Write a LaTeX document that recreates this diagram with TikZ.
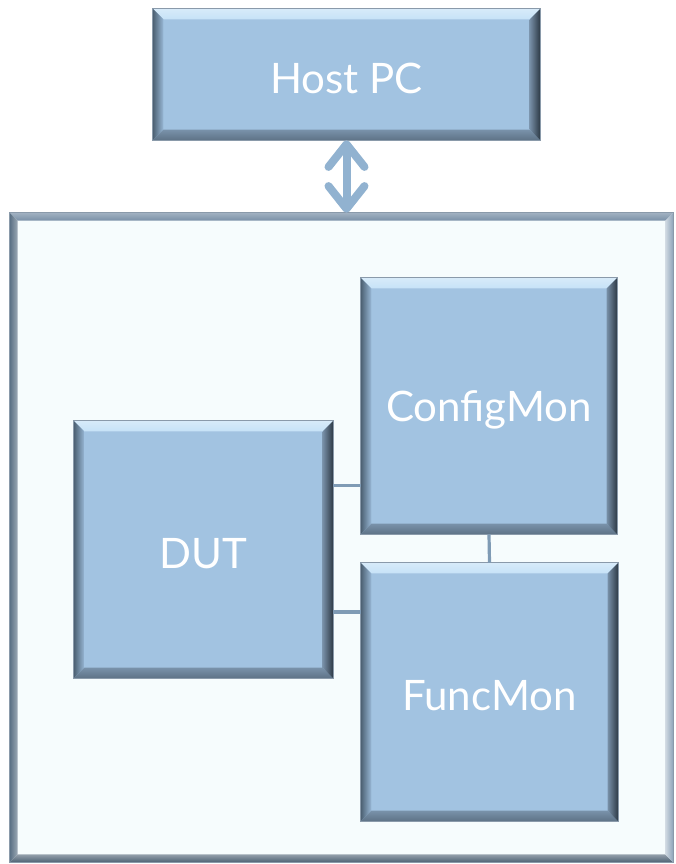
\documentclass[tikz,border=0pt]{standalone}
\usepackage{fontspec}
\setmainfont{Lato}
\usetikzlibrary{arrows.meta,calc}
\definecolor{boxfill}{HTML}{A2C3E1}
\definecolor{boxtop}{HTML}{C6E2F7}
\definecolor{boxleftout}{HTML}{4C6072}
\definecolor{boxleftin}{HTML}{98B8D6}
\definecolor{boxbot}{HTML}{5E7286}
\definecolor{boxright}{HTML}{2C3844}
\definecolor{boxrightin}{HTML}{7890A8}
\definecolor{boardfill}{HTML}{F6FCFD}
\definecolor{boardtop}{HTML}{7990A7}
\definecolor{boardleft}{HTML}{5A7084}
\definecolor{boardbot}{HTML}{4E6274}
\definecolor{boardright}{HTML}{8CA2B8}
\definecolor{linkcol}{HTML}{7F9BB5}
\definecolor{arrowcol}{HTML}{91B2D0}
\definecolor{edgegray}{HTML}{8A9AAA}
\newcommand\bevelbox[2]{%
  \shade[top color=boxtop!70!white,bottom color=boxtop]
    (#1.north west) -- (#1.north east) -- ([shift={(-#2,-#2)}]#1.north east) -- ([shift={(#2,-#2)}]#1.north west) -- cycle;
  \shade[left color=boxleftout,right color=boxleftin]
    (#1.north west) -- ([shift={(#2,-#2)}]#1.north west) -- ([shift={(#2,#2)}]#1.south west) -- (#1.south west) -- cycle;
  \shade[top color=boxbot!60!boxfill,bottom color=boxbot]
    (#1.south west) -- ([shift={(#2,#2)}]#1.south west) -- ([shift={(-#2,#2)}]#1.south east) -- (#1.south east) -- cycle;
  \shade[left color=boxrightin,right color=boxright]
    (#1.north east) -- ([shift={(-#2,-#2)}]#1.north east) -- ([shift={(-#2,#2)}]#1.south east) -- (#1.south east) -- cycle;
  \draw[edgegray,line width=0.5pt] (#1.north west) rectangle (#1.south east);
}
\tikzset{
  blockbox/.style={rectangle,fill=boxfill,inner sep=0pt},
  blocklabel/.style={text=white,inner sep=0pt,yshift=-3pt,font=\fontsize{31.5}{34}\selectfont},
  link/.style={linkcol,line width=2.4pt},
}
\begin{document}
\begin{tikzpicture}[x=0.75pt,y=-0.75pt]
\useasboundingbox (0,0) rectangle (675,864);
% board
\node[rectangle,fill=boardfill,inner sep=0pt,minimum width=663*0.75pt,minimum height=649*0.75pt] (board) at (341.5,537.5) {};
\shade[top color=boardtop!70!white,bottom color=boardtop]
  (board.north west) -- (board.north east) -- ([shift={(-6pt,-6pt)}]board.north east) -- ([shift={(6pt,-6pt)}]board.north west) -- cycle;
\shade[left color=boardleft,right color=boardleft!60!white]
  (board.north west) -- ([shift={(6pt,-6pt)}]board.north west) -- ([shift={(6pt,6pt)}]board.south west) -- (board.south west) -- cycle;
\shade[top color=boardbot!60!white,bottom color=boardbot]
  (board.south west) -- ([shift={(6pt,6pt)}]board.south west) -- ([shift={(-6pt,6pt)}]board.south east) -- (board.south east) -- cycle;
\shade[left color=boardright!40!white,right color=boardright]
  (board.north east) -- ([shift={(-6pt,-6pt)}]board.north east) -- ([shift={(-6pt,6pt)}]board.south east) -- (board.south east) -- cycle;
\draw[edgegray,line width=0.5pt] (board.north west) rectangle (board.south east);
% host
\node[blockbox,minimum width=387*0.75pt,minimum height=131*0.75pt] (host) at (346.5,74.5) {};
\bevelbox{host}{8pt}
\node[blocklabel] (hostlbl) at (host.center) {Host PC};
% DUT
\node[blockbox,minimum width=259*0.75pt,minimum height=257*0.75pt] (dut) at (203.5,549.5) {};
\bevelbox{dut}{8pt}
\node[blocklabel] (dutlbl) at (dut.center) {DUT};
% ConfigMon
\node[blockbox,minimum width=256*0.75pt,minimum height=256*0.75pt] (cfg) at (489,406) {};
\bevelbox{cfg}{8pt}
\node[blocklabel] (cfglbl) at (cfg.center) {ConfigMon};
% FuncMon
\node[blockbox,minimum width=257*0.75pt,minimum height=258*0.75pt] (fm) at (489.5,692) {};
\bevelbox{fm}{8pt}
\node[blocklabel] (fmlbl) at (fm.center) {FuncMon};
% links
\coordinate (d1) at ($(dut.north east)!0.253!(dut.south east)$);
\coordinate (d2) at ($(dut.north east)!0.743!(dut.south east)$);
\draw[link] (d1) -- (d1 -| cfg.west);
\draw[link] (d2) -- (d2 -| fm.west);
\draw[link] (cfg.south) -- (fm.north);
% arrow host <-> board
\draw[arrowcol,line width=6pt,{Straight Barb[round,length=17pt,width=27pt]}-{Straight Barb[round,length=17pt,width=27pt]}]
  (host.south) -- (host.south |- board.north);
\end{tikzpicture}
\end{document}
